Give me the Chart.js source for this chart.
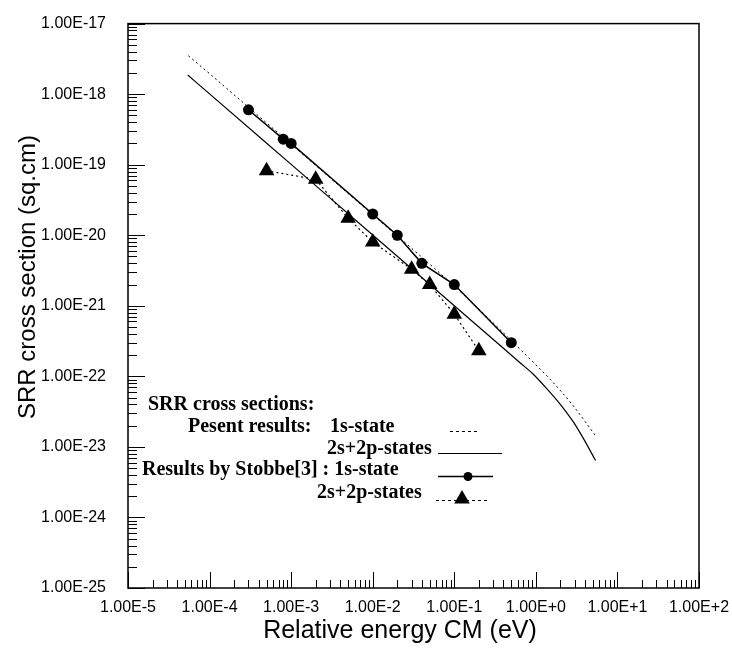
<!DOCTYPE html>
<html>
<head>
<meta charset="utf-8">
<script src="https://cdn.jsdelivr.net/npm/chart.js@4.4.1/dist/chart.umd.min.js"></script>
<style>
    html, body { margin: 0; padding: 0; background: #fff; }
</style>
</head>
<body>
<canvas id="srr-chart" width="732" height="651"></canvas>
<script>
// present results, 1s-state (dotted curve)
const present1sEnergy = [5.5e-5, 1e-4, 1e-3, 1e-2, 1e-1, 0.67, 1.64, 2.88, 5.5];
const present1sSigma = [3.5e-18, 1.95e-18, 1.95e-19, 1.95e-20, 1.9e-21, 2.3e-22, 8.1e-23, 3.8e-23, 1.4e-23];

// present results, 2s+2p-states (solid curve)
const present2sEnergy = [5.4e-5, 1e-4, 1e-3, 1e-2, 1e-1, 0.36, 0.64, 0.93, 1.36, 1.98, 2.88, 3.82, 5.4];
const present2sSigma = [1.87e-18, 1.01e-18, 1.01e-19, 1.01e-20, 1.0e-21, 2.78e-22, 1.56e-22, 1.07e-22, 6.7e-23, 4.05e-23, 2.26e-23, 1.32e-23, 6.4e-24];

// Stobbe [3], 1s-state (circles)
const stobbe1sEnergy = [3e-4, 8e-4, 1e-3, 1e-2, 2e-2, 4e-2, 1e-1, 0.5];
const stobbe1sSigma = [6e-19, 2.3e-19, 2e-19, 2e-20, 1e-20, 4e-21, 2e-21, 3e-22];

// Stobbe [3], 2s+2p-states (triangles)
const stobbe2sEnergy = [5e-4, 2e-3, 5e-3, 1e-2, 3e-2, 5e-2, 1e-1, 0.2];
const stobbe2sSigma = [8.2e-20, 6.2e-20, 1.74e-20, 8e-21, 3.3e-21, 2e-21, 7.6e-22, 2.3e-22];

const xDecades = [1e-5, 1e-4, 1e-3, 1e-2, 1e-1, 1, 10, 100];
const xTickLabels = ['1.00E-5', '1.00E-4', '1.00E-3', '1.00E-2', '1.00E-1', '1.00E+0', '1.00E+1', '1.00E+2'];
const yDecades = [1e-25, 1e-24, 1e-23, 1e-22, 1e-21, 1e-20, 1e-19, 1e-18, 1e-17];
const yTickLabels = ['1.00E-25', '1.00E-24', '1.00E-23', '1.00E-22', '1.00E-21', '1.00E-20', '1.00E-19', '1.00E-18', '1.00E-17'];

function toPoints(xs, ys) {
    return xs.map((x, i) => ({ x: x, y: ys[i] }));
}

const SANS = '"Liberation Sans", Arial, sans-serif';
const SERIF = '"Liberation Serif", "Times New Roman", serif';

function drawTriangle(ctx, x, y, r) {
    ctx.beginPath();
    ctx.moveTo(x, y - r);
    ctx.lineTo(x + r * 0.866, y + r / 2);
    ctx.lineTo(x - r * 0.866, y + r / 2);
    ctx.closePath();
    ctx.fill();
}

// frame, inward tick marks, axis titles and the text legend
const decorPlugin = {
    id: 'decor',
    afterDraw(chart) {
        const ctx = chart.ctx;
        const area = chart.chartArea;
        const xs = chart.scales.x;
        const ys = chart.scales.y;
        ctx.save();
        ctx.strokeStyle = '#000';
        ctx.fillStyle = '#000';

        ctx.lineWidth = 1.5;
        ctx.strokeRect(area.left, area.top, area.right - area.left, area.bottom - area.top);

        ctx.lineWidth = 1;
        ctx.beginPath();
        xDecades.forEach(d => {
            for (let m = 1; m < 10; m++) {
                const v = d * m;
                if (v > xs.max * 1.0001) break;
                const px = Math.round(xs.getPixelForValue(v)) + 0.5;
                const len = m === 1 ? 16 : 8;
                ctx.moveTo(px, area.bottom);
                ctx.lineTo(px, area.bottom - len);
            }
        });
        yDecades.forEach(d => {
            for (let m = 1; m < 10; m++) {
                const v = d * m;
                if (v > ys.max * 1.0001) break;
                const py = Math.round(ys.getPixelForValue(v)) + 0.5;
                const len = m === 1 ? 17 : 9;
                ctx.moveTo(area.left, py);
                ctx.lineTo(area.left + len, py);
            }
        });
        ctx.stroke();

        // axis titles
        ctx.font = '25px ' + SANS;
        ctx.textAlign = 'center';
        ctx.textBaseline = 'middle';
        ctx.fillText('Relative energy CM (eV)', 400, 631);
        ctx.font = '24px ' + SANS;
        ctx.save();
        ctx.translate(28, 277);
        ctx.rotate(-Math.PI / 2);
        ctx.fillText('SRR cross section (sq.cm)', 0, 0);
        ctx.restore();

        // legend block
        ctx.font = 'bold 20px ' + SERIF;
        ctx.textAlign = 'left';
        ctx.textBaseline = 'alphabetic';
        ctx.fillText('SRR cross sections:', 148, 410);
        ctx.fillText('Pesent results:', 188, 432);
        ctx.fillText('1s-state', 330, 432);
        ctx.fillText('2s+2p-states', 327, 454);
        ctx.fillText('Results by Stobbe[3] : 1s-state', 142, 475);
        ctx.fillText('2s+2p-states', 317, 498);

        ctx.lineWidth = 1;
        ctx.setLineDash([3, 3]);
        ctx.beginPath();
        ctx.moveTo(450, 431.5);
        ctx.lineTo(477, 431.5);
        ctx.stroke();
        ctx.beginPath();
        ctx.moveTo(436, 500.5);
        ctx.lineTo(490, 500.5);
        ctx.stroke();
        ctx.setLineDash([]);
        ctx.beginPath();
        ctx.moveTo(438, 453.5);
        ctx.lineTo(502, 453.5);
        ctx.stroke();
        ctx.lineWidth = 1.5;
        ctx.beginPath();
        ctx.moveTo(438, 476.5);
        ctx.lineTo(493, 476.5);
        ctx.stroke();
        ctx.beginPath();
        ctx.arc(468, 476.5, 4.5, 0, Math.PI * 2);
        ctx.fill();
        drawTriangle(ctx, 462, 499, 9);

        ctx.restore();
    }
};

const ctx = document.getElementById('srr-chart').getContext('2d');

new Chart(ctx, {
    type: 'line',
    data: {
        datasets: [
            {
                label: 'Pesent results: 1s-state',
                data: toPoints(present1sEnergy, present1sSigma),
                borderColor: '#000',
                borderWidth: 1,
                borderDash: [2, 3],
                pointRadius: 0,
                cubicInterpolationMode: 'monotone',
                fill: false
            },
            {
                label: 'Pesent results: 2s+2p-states',
                data: toPoints(present2sEnergy, present2sSigma),
                borderColor: '#000',
                borderWidth: 1.2,
                pointRadius: 0,
                cubicInterpolationMode: 'monotone',
                fill: false
            },
            {
                label: 'Results by Stobbe[3] : 1s-state',
                data: toPoints(stobbe1sEnergy, stobbe1sSigma),
                borderColor: '#000',
                borderWidth: 1.5,
                pointStyle: 'circle',
                pointRadius: 5.5,
                pointBorderWidth: 0,
                pointBackgroundColor: '#000',
                tension: 0,
                fill: false
            },
            {
                label: 'Results by Stobbe[3] : 2s+2p-states',
                data: toPoints(stobbe2sEnergy, stobbe2sSigma),
                borderColor: '#000',
                borderWidth: 1.2,
                borderDash: [2, 3],
                pointStyle: 'triangle',
                pointRadius: 9,
                pointBorderWidth: 0,
                pointBackgroundColor: '#000',
                tension: 0,
                fill: false
            }
        ]
    },
    options: {
        responsive: false,
        animation: false,
        layout: {
            padding: { left: 0, top: 16, right: 33, bottom: 0 }
        },
        scales: {
            x: {
                type: 'logarithmic',
                min: 1e-5,
                max: 100,
                afterBuildTicks: function(scale) {
                    scale.ticks = xDecades.map(v => ({ value: v }));
                },
                afterFit: function(scale) {
                    scale.height = 63;
                },
                grid: { display: false },
                border: { display: false },
                ticks: {
                    autoSkip: false,
                    maxRotation: 0,
                    padding: 2,
                    color: '#000',
                    font: { family: SANS, size: 16 },
                    callback: function(value, index) {
                        return xTickLabels[index];
                    }
                }
            },
            y: {
                type: 'logarithmic',
                min: 1e-25,
                max: 1e-17,
                afterBuildTicks: function(scale) {
                    scale.ticks = yDecades.map(v => ({ value: v }));
                },
                afterFit: function(scale) {
                    scale.width = 128;
                },
                grid: { display: false },
                border: { display: false },
                ticks: {
                    autoSkip: false,
                    padding: 14,
                    color: '#000',
                    font: { family: SANS, size: 16 },
                    callback: function(value, index) {
                        return yTickLabels[index];
                    }
                }
            }
        },
        plugins: {
            legend: { display: false },
            tooltip: { enabled: false }
        }
    },
    plugins: [decorPlugin]
});
</script>
</body>
</html>
